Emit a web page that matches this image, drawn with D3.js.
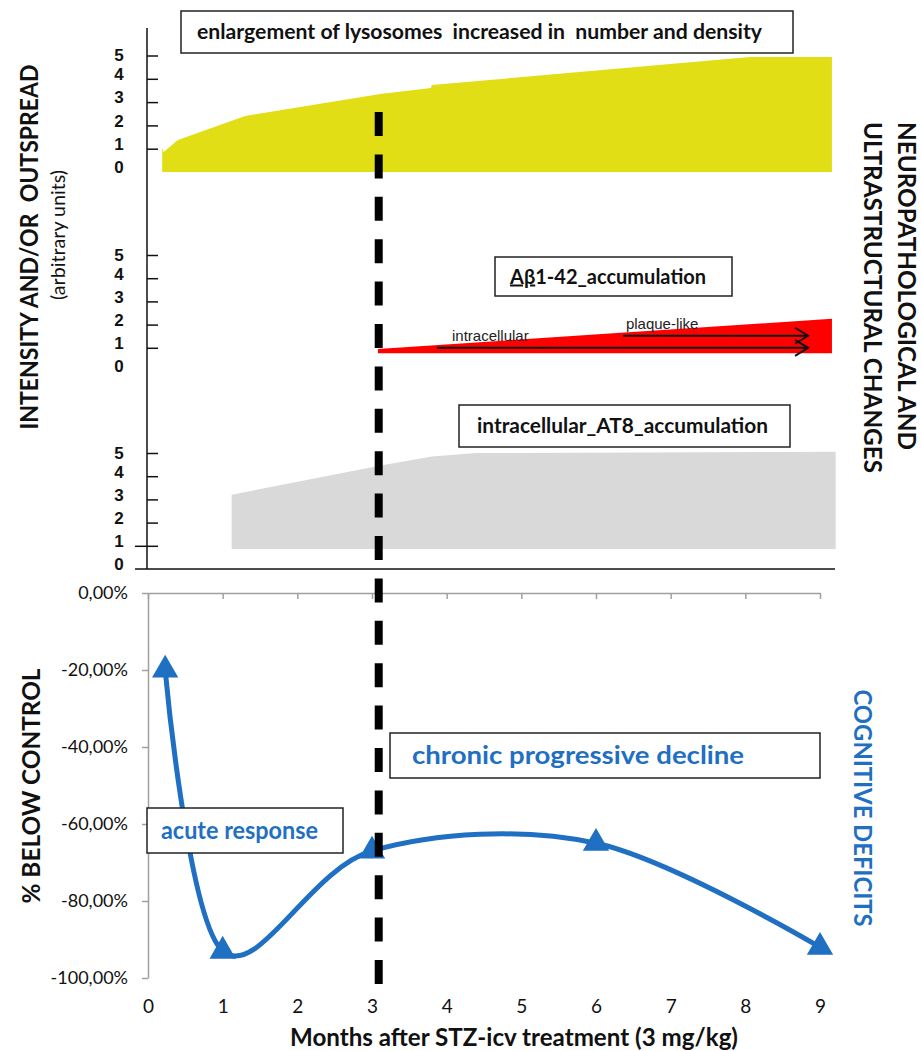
<!DOCTYPE html>
<html>
<head>
<meta charset="utf-8">
<script src="https://cdn.jsdelivr.net/npm/d3@7"></script>
<style>
  body { margin: 0; background: #fff; }
  text { white-space: pre; }
</style>
</head>
<body>
<div id="chart"></div>
<script>
// ---- data ----
const months = [0, 1, 2, 3, 4, 5, 6, 7, 8, 9];
const levelTicks = [0, 1, 2, 3, 4, 5];
const pctTicks = [0, -20, -40, -60, -80, -100];

// lysosome enlargement (yellow band), arbitrary units
const lysoMonths = [0.19, 0.21, 0.40, 1.30, 3.11, 3.79, 3.80, 8.06, 9.16];
const lysoLevel  = [1.03, 0.86, 1.37, 2.40, 3.35, 3.60, 3.73, 4.94, 4.94];

// Abeta 1-42 accumulation (red wedge)
const abetaMonths = [3.08, 9.16];
const abetaLevel  = [0.95, 2.25];
const abetaBase = 0.77;

// intracellular AT8 accumulation (grey band)
const tauMonths = [1.12, 3.10, 3.80, 4.40, 9.21];
const tauLevel  = [3.20, 4.45, 4.85, 5.00, 5.05];
const tauBase = 0.86;

// cognitive deficits, % below control
const deficitMonths = [0.23, 1, 3, 6, 9];
const deficitPct    = [-20, -93, -67, -65, -92];

const dividerMonth = 3.09;

const arrows = [
  {label: "intracellular", from: 3.87, to: 8.84, level: 1.0, dx: 15},
  {label: "plaque-like",   from: 6.36, to: 8.84, level: 1.52, dx: 3}
];

const width = 921;
const height = 1051;

const svg = d3.select("#chart")
  .append("svg")
  .attr("width", width)
  .attr("height", height);

svg.append("rect").attr("width", width).attr("height", height).attr("fill", "#fff");

const xScale = d3.scaleLinear().domain([0, 9]).range([148, 820]);
const yLyso  = d3.scaleLinear().domain([0, 5]).range([172, 55.5]);
const yAbeta = d3.scaleLinear().domain([0, 5]).range([371, 255]);
const yTau   = d3.scaleLinear().domain([0, 5]).range([569, 453]);
const yDef   = d3.scaleLinear().domain([-100, 0]).range([978, 593]);

// ---- upper panel: bands ----
function band(ms, vals, base, y, color) {
  const pts = ms.map((m, i) => ({m: m, v: vals[i]}));
  const area = d3.area()
    .x(d => xScale(d.m))
    .y0(y(base))
    .y1(d => y(d.v));
  svg.append("path")
    .datum(pts)
    .attr("d", area)
    .attr("fill", color);
}
band(lysoMonths, lysoLevel, 0, yLyso, "#e2de16");
band(abetaMonths, abetaLevel, abetaBase, yAbeta, "#ff0000");
band(tauMonths, tauLevel, tauBase, yTau, "#d9d9d9");

// arrows on the red wedge
arrows.forEach(function(a) {
  const x1 = xScale(a.from), x2 = xScale(a.to), y = yAbeta(a.level);
  svg.append("line")
    .attr("x1", x1).attr("x2", x2).attr("y1", y).attr("y2", y)
    .attr("stroke", "#111").attr("stroke-width", 2);
  svg.append("path")
    .attr("d", `M${x2-13},${y-8}L${x2},${y}L${x2-13},${y+8}`)
    .attr("fill", "none").attr("stroke", "#111").attr("stroke-width", 2);
  svg.append("text")
    .attr("x", x1 + a.dx).attr("y", y - 7)
    .attr("font-family", "Liberation Sans, Arial, sans-serif")
    .attr("font-size", 15)
    .attr("fill", "#222")
    .text(a.label);
});

// ---- upper panel: axes ----
[yLyso, yAbeta, yTau].forEach(function(y, gi) {
  const g = svg.append("g")
    .attr("transform", "translate(147,0)")
    .call(d3.axisLeft(y).tickValues(levelTicks).tickSize(-11).tickPadding(23).tickFormat(d3.format("d")));
  g.select(".domain").remove();
  g.selectAll(".tick line").attr("stroke", "#111").attr("stroke-width", 1.5)
    .filter(d => d === 0).remove();
  if (gi === 2) g.selectAll(".tick line").filter(d => d === 1).attr("x1", -12);
  g.selectAll(".tick text")
    .attr("font-family", "Liberation Sans, Arial, sans-serif")
    .attr("font-weight", "bold")
    .attr("font-size", 17)
    .attr("fill", "#111")
    .attr("text-anchor", "middle")
    .attr("x", -28)
    .attr("dy", d => d === 5 ? "0.32em" : "0.05em");
});
svg.append("line")
  .attr("x1", 147).attr("x2", 147).attr("y1", 28).attr("y2", yTau(0))
  .attr("stroke", "#111").attr("stroke-width", 1.5);
svg.append("line")
  .attr("x1", 135).attr("x2", 835).attr("y1", yTau(0)).attr("y2", yTau(0))
  .attr("stroke", "#111").attr("stroke-width", 1.5);

// ---- lower panel: axes ----
const fmtPct = d => d.toFixed(2).replace(".", ",") + "%";
const yAxis = svg.append("g")
  .attr("transform", "translate(148,0)")
  .call(d3.axisLeft(yDef).tickValues(pctTicks).tickSize(6).tickSizeOuter(0).tickPadding(14).tickFormat(fmtPct));
yAxis.select(".domain").attr("stroke", "#a0a0a0").attr("stroke-width", 1.5);
yAxis.selectAll(".tick line").attr("stroke", "#a0a0a0").attr("stroke-width", 1.5);
yAxis.selectAll(".tick text")
  .attr("font-family", "Lato, sans-serif")
  .attr("font-size", 18)
  .attr("fill", "#111");

const xTop = svg.append("g")
  .attr("transform", `translate(0,${yDef(0)})`)
  .call(d3.axisBottom(xScale).tickValues(months).tickSize(6).tickSizeOuter(0).tickFormat(""));
xTop.select(".domain").attr("stroke", "#a0a0a0").attr("stroke-width", 1.5);
xTop.selectAll(".tick line").attr("stroke", "#a0a0a0").attr("stroke-width", 1.5);

const xLabels = svg.append("g")
  .attr("transform", "translate(0,997)")
  .call(d3.axisBottom(xScale).tickValues(months).tickSize(0).tickPadding(2).tickFormat(d3.format("d")));
xLabels.select(".domain").remove();
xLabels.selectAll(".tick text")
  .attr("font-family", "Lato, sans-serif")
  .attr("font-size", 19)
  .attr("fill", "#111");

svg.append("text")
  .attr("x", 514).attr("y", 1046)
  .attr("text-anchor", "middle")
  .attr("font-family", "Lato, sans-serif")
  .attr("font-weight", "bold")
  .attr("font-size", 24)
  .attr("fill", "#111")
  .attr("textLength", 448)
  .attr("lengthAdjust", "spacingAndGlyphs")
  .text("Months after STZ-icv treatment (3 mg/kg)");

// ---- cognitive deficit curve ----
const defPts = deficitMonths.map((m, i) => ({m: m, v: deficitPct[i]}));
const blue = "#1f6fc2";
svg.append("path")
  .datum(defPts)
  .attr("d", d3.line().x(d => xScale(d.m)).y(d => yDef(d.v)).curve(d3.curveCatmullRom.alpha(0)))
  .attr("fill", "none")
  .attr("stroke", blue)
  .attr("stroke-width", 5);
svg.selectAll(".marker")
  .data(defPts)
  .enter()
  .append("path")
    .attr("class", "marker")
    .attr("d", d3.symbol().type(d3.symbolTriangle).size(300))
    .attr("transform", d => `translate(${xScale(d.m)},${yDef(d.v)})`)
    .attr("fill", blue);

// ---- dashed divider ----
svg.append("line")
  .attr("x1", xScale(dividerMonth)).attr("x2", xScale(dividerMonth))
  .attr("y1", 112).attr("y2", 984)
  .attr("stroke", "#000")
  .attr("stroke-width", 8)
  .attr("stroke-dasharray", "24 18.4");

// ---- annotation boxes ----
function box(x, y, w, h, color, size, tx, len) {
  svg.append("rect")
    .attr("x", x).attr("y", y).attr("width", w).attr("height", h)
    .attr("fill", "#fff").attr("stroke", "#222").attr("stroke-width", 1.5);
  const t = svg.append("text")
    .attr("x", tx).attr("y", y + h / 2)
    .attr("dy", "0.35em")
    .attr("font-family", "Lato, sans-serif")
    .attr("font-weight", "bold")
    .attr("font-size", size)
    .attr("fill", color);
  if (len) t.attr("textLength", len).attr("lengthAdjust", "spacingAndGlyphs");
  return t;
}
box(181, 11, 612, 42, "#111", 21, 197, 565)
  .text("enlargement of lysosomes  increased in  number and density");
const ab = box(495, 257, 237, 39, "#111", 20, 510, null);
ab.append("tspan").attr("text-decoration", "underline").text("Aβ");
ab.append("tspan").text("1-42_accumulation");
box(459, 405, 331, 42, "#111", 21, 477, 291)
  .text("intracellular_AT8_accumulation");
box(390, 733, 430, 45, blue, 25, 412, 332)
  .text("chronic progressive decline");
box(147, 808, 196, 45, blue, 24, 161, 157)
  .text("acute response");

// ---- rotated titles ----
function vtext(x, y, angle, label, size, weight, color, anchor, len) {
  svg.append("text")
    .attr("transform", `translate(${x},${y}) rotate(${angle})`)
    .attr("dy", "0.35em")
    .attr("text-anchor", anchor)
    .attr("font-family", "Lato, sans-serif")
    .attr("font-weight", weight)
    .attr("font-size", size)
    .attr("fill", color)
    .attr("textLength", len)
    .attr("lengthAdjust", "spacingAndGlyphs")
    .text(label);
}
vtext(30, 247, -90, "INTENSITY AND/OR  OUTSPREAD", 24, "bold", "#111", "middle", 365);
vtext(58, 235, -90, "(arbitrary units)", 20, "normal", "#111", "middle", 130);
vtext(31, 786, -90, "% BELOW CONTROL", 25, "bold", "#111", "middle", 235);
vtext(906, 122, 90, "NEUROPATHOLOGICAL AND", 24, "bold", "#111", "start", 328);
vtext(872, 122, 90, "ULTRASTRUCTURAL CHANGES", 24, "bold", "#111", "start", 351);
vtext(863, 808, 90, "COGNITIVE DEFICITS", 25, "bold", blue, "middle", 237);
</script>
</body>
</html>
